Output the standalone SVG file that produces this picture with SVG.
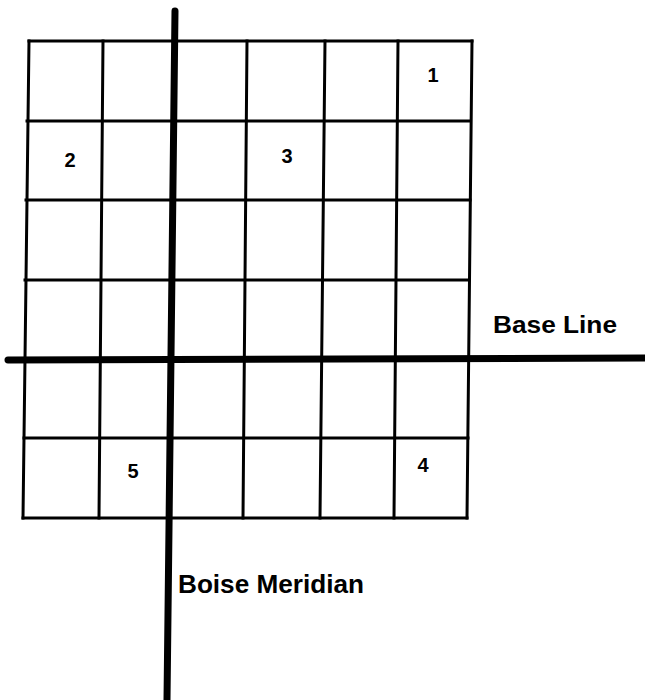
<svg xmlns="http://www.w3.org/2000/svg" width="645" height="700" viewBox="0 0 645 700">
  <style>
    .grid { stroke: #000; stroke-width: 3; fill: none; stroke-linecap: square; }
    .axis { stroke: #000; stroke-width: 7; fill: none; stroke-linecap: round; }
    .num { font-family: "Liberation Sans", Arial, sans-serif; font-weight: bold; font-size: 20px; fill: #000; text-anchor: middle; }
    .lbl { font-family: "Liberation Sans", Arial, sans-serif; font-weight: bold; fill: #000; }
  </style>
  <rect width="645" height="700" fill="#fff"/>
  <g id="grid">
    <path class="grid" d="M29,41 L472,41 M27,121 L470,121 M26,200 L470,200 M25,280 L469,280 M24,438 L468,438 M23,518 L467,518"/>
    <path class="grid" d="M29,41 L23,518 M103,41 L99,518 M247,41 L243,518 M325,41 L320,518 M398,41 L394,518 M472,41 L467,518"/>
  </g>
  <g id="axes">
    <line id="base-line" class="axis" x1="8" y1="360" x2="645" y2="358"/>
    <line id="boise-meridian" class="axis" x1="175" y1="11" x2="167" y2="700"/>
  </g>
  <g id="labels">
    <text class="num" x="433" y="82">1</text>
    <text class="num" x="70" y="167">2</text>
    <text class="num" x="287" y="163">3</text>
    <text class="num" x="423" y="472">4</text>
    <text class="num" x="133" y="478">5</text>
    <text class="lbl" x="493" y="333" font-size="23" textLength="124" lengthAdjust="spacingAndGlyphs">Base Line</text>
    <text class="lbl" x="178" y="593" font-size="26" textLength="186" lengthAdjust="spacingAndGlyphs">Boise Meridian</text>
  </g>
</svg>
